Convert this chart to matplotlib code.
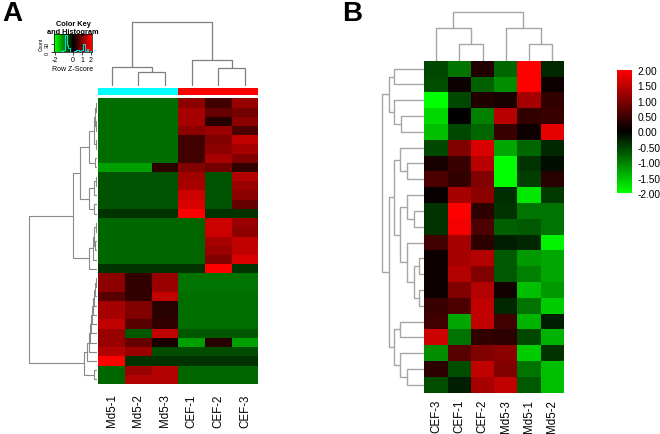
import numpy as np
import matplotlib
matplotlib.use("Agg")
import matplotlib.pyplot as plt
from matplotlib.colors import LinearSegmentedColormap, ListedColormap
from matplotlib.cm import ScalarMappable
from matplotlib.colors import Normalize

plt.rcParams['font.family'] = ['Liberation Sans', 'DejaVu Sans']

# ---------------- data ----------------
A_cols = ["Md5-1", "Md5-2", "Md5-3", "CEF-1", "CEF-2", "CEF-3"]
A_groups = ["Md5", "Md5", "Md5", "CEF", "CEF", "CEF"]
A_group_colors = {"Md5": "#00FFFF", "CEF": "#FF0000"}
A_values = [
    [-0.85, -0.85, -0.85, 1.1, 0.5, 1.2],
    [-0.85, -0.85, -0.85, 1.3, 0.8, 0.9],
    [-0.85, -0.85, -0.85, 1.3, 0.3, 1.1],
    [-0.85, -0.85, -0.85, 1.1, 1.2, 0.6],
    [-0.85, -0.85, -0.85, 0.5, 1.0, 1.5],
    [-0.85, -0.85, -0.85, 0.5, 1.1, 1.3],
    [-0.85, -0.85, -0.85, 0.5, 1.3, 1.0],
    [-1.25, -1.25, 0.35, 1.0, 0.9, 0.4],
    [-0.65, -0.65, -0.65, 1.25, -0.65, 1.4],
    [-0.65, -0.65, -0.65, 1.3, -0.65, 1.2],
    [-0.65, -0.65, -0.65, 1.6, -0.65, 1.1],
    [-0.65, -0.65, -0.65, 1.7, -0.65, 0.8],
    [-0.4, -0.4, -0.4, 2.0, -0.4, -0.4],
    [-0.8, -0.8, -0.8, -0.8, 1.6, 1.2],
    [-0.8, -0.8, -0.8, -0.8, 1.6, 1.1],
    [-0.8, -0.8, -0.8, -0.8, 1.3, 1.5],
    [-0.8, -0.8, -0.8, -0.8, 1.2, 1.5],
    [-0.8, -0.8, -0.8, -0.8, 1.0, 1.7],
    [-0.4, -0.4, -0.4, -0.4, 2.0, -0.4],
    [1.1, 0.4, 1.2, -0.9, -0.9, -0.9],
    [1.1, 0.4, 1.2, -0.9, -0.9, -0.9],
    [0.7, 0.4, 1.5, -0.87, -0.87, -0.87],
    [1.3, 1.0, 0.3, -0.87, -0.87, -0.87],
    [1.3, 1.0, 0.3, -0.87, -0.87, -0.87],
    [1.5, 0.7, 0.4, -0.87, -0.87, -0.87],
    [1.2, -0.7, 1.5, -0.7, -0.7, -0.7],
    [1.2, 0.8, 0.2, -1.25, 0.3, -1.25],
    [1.4, 1.2, -0.6, -0.6, -0.6, -0.6],
    [2.0, -0.4, -0.4, -0.4, -0.4, -0.4],
    [-0.8, 1.2, 1.4, -0.8, -0.8, -0.8],
    [-0.8, 1.4, 1.4, -0.8, -0.8, -0.8],
]
# dendrograms: [left, right, height]; leaves are row/column indices
A_col_tree = [[0, [1, 2, 13.7], 18.7], [3, [4, 5, 17.7], 26.0], 63.7]
A_row_tree = [
    [
        [
            [[[[0, 1, 1.0], [2, 3, 1.0], 2.0], [4, 5, 1.5], 3.0], [6, 7, 2.0], 8.0],
            [[[8, 9, 1.5], 10, 3.0], [11, 12, 3.0], 8.0],
            17.0,
        ],
        [[[[13, 14, 1.0], [15, 16, 2.0], 3.0], 17, 4.0], 18, 8.0],
        24.0,
    ],
    [
        [[[[[[[[[19, 20, 1.0], 21, 2.0], 22, 3.0], 23, 4.0], 24, 5.0], 25, 6.0],
             26, 7.0], 27, 8.0], 28, 10.0],
        [29, 30, 3.0],
        13.0,
    ],
    68.0,
]

B_cols = ["CEF-3", "CEF-1", "CEF-2", "Md5-3", "Md5-1", "Md5-2"]
B_values = [
    [-0.55, -0.9, 0.25, -0.8, 2.0, -0.3],
    [-0.6, 0.1, -0.75, -1.1, 2.0, 0.1],
    [-2.0, -0.55, 0.25, 0.2, 1.3, 0.4],
    [-1.7, 0.0, -1.0, 1.45, 0.4, 0.45],
    [-1.5, -0.55, -0.8, 0.45, 0.1, 1.8],
    [-0.55, 1.0, 1.7, -1.3, -0.8, -0.3],
    [0.2, 0.45, 1.45, -2.0, -0.4, -0.1],
    [0.6, 0.4, 1.0, -2.0, -0.5, 0.3],
    [0.05, 1.3, 1.1, -0.35, -1.8, -0.45],
    [-0.4, 2.0, 0.35, -0.4, -0.9, -0.9],
    [-0.4, 1.9, 0.6, -0.75, -0.7, -0.9],
    [0.5, 1.3, 0.35, -0.25, -0.3, -1.9],
    [0.1, 1.3, 1.4, -0.7, -1.2, -1.3],
    [0.1, 1.4, 1.0, -0.7, -1.0, -1.3],
    [0.1, 1.0, 1.4, 0.15, -1.5, -1.2],
    [0.45, 0.6, 1.5, -0.3, -0.9, -1.6],
    [0.5, -1.3, 1.5, 0.5, -1.4, -0.25],
    [1.6, -0.9, 0.4, 0.35, -0.55, -1.4],
    [-1.1, 0.7, 1.0, 1.1, -1.6, -0.4],
    [0.35, -0.6, 1.5, 1.0, -0.9, -1.5],
    [-0.6, -0.25, 1.3, 1.5, -0.7, -1.5],
]
B_col_tree = [[0, [1, 2, 16.7], 32.4], [3, [4, 5, 16.7], 32.4], 49.0]
B_row_tree = [
    [[0, 1, 30.0], [2, [3, 4, 23.3], 30.0], 35.7],
    [
        [
            [5, [6, 7, 17.3], 24.0],
            [[8, [9, 10, 10.7], 17.3], [11, [[12, 13, 5.0], [14, 15, 5.0], 10.7], 17.3], 24.0],
            30.0,
        ],
        [[16, 17, 24.0], [18, [19, 20, 17.3], 24.0], 30.0],
        35.7,
    ],
    42.3,
]
B_cbar_ticks = [2.0, 1.5, 1.0, 0.5, 0.0, -0.5, -1.0, -1.5, -2.0]

# ---------------- helpers ----------------
W, H = 660, 435
fig = plt.figure(figsize=(6.6, 4.35), dpi=100)
cmap = LinearSegmentedColormap.from_list("gbr", ["#00FF00", "#000000", "#FF0000"])


def ax_px(x0, y0, x1, y1):
    return fig.add_axes([x0 / W, 1 - y1 / H, (x1 - x0) / W, (y1 - y0) / H])


def tree_segments(node, segs):
    if isinstance(node, int):
        return node + 0.5, 0.0
    left, right, h = node
    pl, hl = tree_segments(left, segs)
    pr, hr = tree_segments(right, segs)
    segs.append(([pl, pl, pr, pr], [hl, h, h, hr]))
    return (pl + pr) / 2.0, h


def draw_col_dendro(ax, tree, n, color, lw):
    segs = []
    tree_segments(tree, segs)
    for p, h in segs:
        ax.plot(p, h, color=color, lw=lw, solid_capstyle="butt")
    ax.set_xlim(0, n)
    ax.axis("off")


def draw_row_dendro(ax, tree, n, color, lw):
    segs = []
    tree_segments(tree, segs)
    for p, h in segs:
        ax.plot(h, p, color=color, lw=lw, solid_capstyle="butt")
    ax.set_ylim(n, 0)
    ax.axis("off")


def draw_heat(ax, vals):
    arr = np.array(vals)
    ax.pcolormesh(np.arange(arr.shape[1] + 1), np.arange(arr.shape[0] + 1), arr,
                  cmap=cmap, vmin=-2, vmax=2, edgecolors="none")
    ax.set_xlim(0, arr.shape[1])
    ax.set_ylim(arr.shape[0], 0)
    ax.set_xticks([])
    ax.set_yticks([])
    for s in ax.spines.values():
        s.set_visible(False)


# ---------------- panel A ----------------
fig.text(2 / W, 1 - 1 / H, "A", fontsize=20, fontweight="bold", va="top", ha="left")

hA_x0, hA_x1, hA_y0, hA_y1 = 98.3, 258.3, 99.3, 385.0
axA = ax_px(hA_x0, hA_y0, hA_x1, hA_y1)
draw_heat(axA, A_values)
for i, lab in enumerate(A_cols):
    axA.text(i + 0.5, len(A_values) + 1.0, lab, rotation=90, ha="center", va="top",
             fontsize=8.3)

axAg = ax_px(hA_x0, 89, hA_x1, 96)
grp_idx = [list(A_group_colors).index(g) for g in A_groups]
axAg.pcolormesh(np.arange(len(A_groups) + 1), [0, 1], [grp_idx],
                cmap=ListedColormap(list(A_group_colors.values())), vmin=-0.5, vmax=1.5)
axAg.axis("off")

axAcd = ax_px(hA_x0, 20, hA_x1, 87)
draw_col_dendro(axAcd, A_col_tree, len(A_cols), "#7f7f7f", 0.9)
axAcd.set_ylim(0, 67)

axArd = ax_px(25, hA_y0, 97, hA_y1)
draw_row_dendro(axArd, A_row_tree, len(A_values), "#8a8a8a", 0.8)
axArd.set_xlim(72, 0)

# colour key with histogram
axK = ax_px(54, 35, 92, 53)
grad = np.linspace(-2.1, 2.1, 200)
axK.pcolormesh(grad, [0, 1], [grad[:-1]], cmap=cmap, vmin=-2, vmax=2)
flat = np.array(A_values).ravel()
counts, edges = np.histogram(flat, bins=np.linspace(-2.1, 2.1, 22))
ymax = counts.max() * 1.05
axK.step(edges, np.append(counts, counts[-1]) / ymax, where="post", color="#00E5E5", lw=0.7)
axK.set_xlim(-2.1, 2.1)
axK.set_ylim(0, 1)
axK.set_xticks([-2, 0, 1, 2])
axK.set_xticklabels(["-2", "0", "1", "2"], fontsize=5)
axK.set_yticks([0, 30 / ymax])
axK.set_yticklabels(["0", "30"], fontsize=4, rotation=90, va="center")
axK.tick_params(length=2, width=0.5, pad=1)
axK.set_ylabel("Count", fontsize=3.5, labelpad=1)
axK.set_xlabel("Row Z-Score", fontsize=5, labelpad=1.5)
for s in axK.spines.values():
    s.set_linewidth(0.5)
fig.text(73 / W, 1 - 21 / H, "Color Key\nand Histogram", fontsize=5.3, fontweight="bold",
         ha="center", va="top", linespacing=1.1)

# ---------------- panel B ----------------
fig.text(342 / W, 1 - 1 / H, "B", fontsize=20, fontweight="bold", va="top", ha="left")

hB_x0, hB_x1, hB_y0, hB_y1 = 424.3, 564.0, 61.7, 393.7
axB = ax_px(hB_x0, hB_y0, hB_x1, hB_y1)
draw_heat(axB, B_values)
for i, lab in enumerate(B_cols):
    axB.text(i + 0.5, len(B_values) + 0.4, lab, rotation=90, ha="center", va="top",
             fontsize=8.3)

axBcd = ax_px(hB_x0, 8, hB_x1, hB_y0)
draw_col_dendro(axBcd, B_col_tree, len(B_cols), "#a6a6a6", 1.0)
axBcd.set_ylim(0, hB_y0 - 8)

axBrd = ax_px(376, hB_y0, hB_x0, hB_y1)
draw_row_dendro(axBrd, B_row_tree, len(B_values), "#a6a6a6", 1.0)
axBrd.set_xlim(hB_x0 - 376, 0)

axBc = ax_px(616.7, 70.7, 631.7, 194)
sm = ScalarMappable(norm=Normalize(-2, 2), cmap=cmap)
cb = fig.colorbar(sm, cax=axBc)
cb.outline.set_visible(False)
cb.set_ticks(B_cbar_ticks)
cb.set_ticklabels([f"{t:.2f}" for t in B_cbar_ticks])
axBc.tick_params(length=0, pad=4, labelsize=7.3)

fig.savefig("out.png", dpi=100)
